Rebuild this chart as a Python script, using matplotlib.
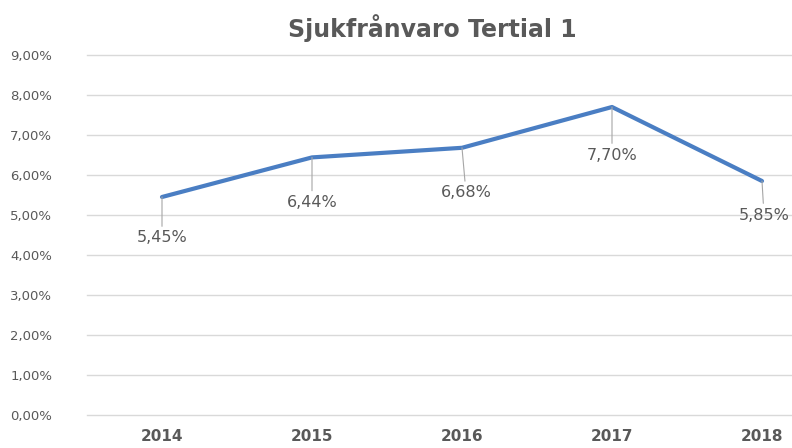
import matplotlib
matplotlib.use("Agg")
import matplotlib.pyplot as plt
from matplotlib.ticker import FuncFormatter

years = ["2014", "2015", "2016", "2017", "2018"]
values = [5.45, 6.44, 6.68, 7.70, 5.85]
labels = ["5,45%", "6,44%", "6,68%", "7,70%", "5,85%"]
# label offsets (pixels) relative to each point
offsets = [(0, -41), (0, -45), (4, -45), (0, -48), (2, -34)]

gray = "#595959"
fig = plt.figure(figsize=(7.92, 4.48), dpi=100)
ax = fig.add_axes([87/792, 33/448, 750/792, 360/448])

x = list(range(len(years)))
ax.plot(x, values, color="#4A7EC3", lw=3.0, solid_capstyle="round", zorder=3)

for xi, v, lab, (dx, dy) in zip(x, values, labels, offsets):
    ax.annotate(lab, xy=(xi, v), xytext=(dx, dy), textcoords="offset pixels",
                ha="center", va="center", fontsize=11.5, color=gray,
                family="DejaVu Sans Condensed" if False else "DejaVu Sans",
                arrowprops=dict(arrowstyle="-", color="#A6A6A6", lw=0.8,
                                shrinkA=1, shrinkB=0), zorder=4)

ax.set_xlim(-0.5, 4.5)
ax.set_ylim(0, 9)
ax.set_yticks(range(0, 10))
ax.yaxis.set_major_formatter(FuncFormatter(lambda v, p: f"{v:.2f}%".replace(".", ",")))
ax.set_xticks(x)
ax.set_xticklabels(years, fontweight="bold", family="Liberation Sans Narrow", fontsize=11)
ax.grid(axis="y", color="#D9D9D9", lw=1, clip_on=False)
for gl in ax.get_ygridlines():
    gl.set_clip_on(False)
ax.set_axisbelow(True)
for s in ax.spines.values():
    s.set_visible(False)
ax.tick_params(axis="both", length=0, colors=gray)
ax.tick_params(axis="y", labelsize=9.5, pad=25)
ax.tick_params(axis="x", pad=10)

fig.text(432/792, 1 - 28/448, "Sjukfrånvaro Tertial 1", ha="center", va="center",
         fontsize=17, fontweight="bold", color=gray)

fig.savefig("out.png", dpi=100)
